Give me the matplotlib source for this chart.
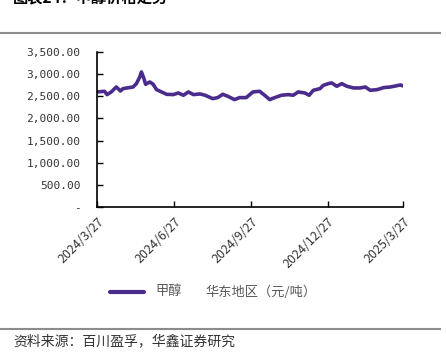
import matplotlib
matplotlib.use("Agg")
import matplotlib.pyplot as plt
from matplotlib.lines import Line2D
import pandas as pd

plt.rcParams['font.family'] = ['Noto Sans CJK SC', 'DejaVu Sans']

# methanol price, East China (yuan/ton)
dates = ['2024-03-27', '2024-04-05', '2024-04-08', '2024-04-13', '2024-04-19', '2024-04-24',
         '2024-04-27', '2024-05-09', '2024-05-13', '2024-05-17', '2024-05-19', '2024-05-22',
         '2024-05-24', '2024-05-29', '2024-06-02', '2024-06-06', '2024-06-12', '2024-06-18',
         '2024-06-26', '2024-07-02', '2024-07-08', '2024-07-14', '2024-07-20', '2024-07-28',
         '2024-08-03', '2024-08-12', '2024-08-18', '2024-08-24', '2024-08-30', '2024-09-07',
         '2024-09-13', '2024-09-21', '2024-09-29', '2024-10-07', '2024-10-13', '2024-10-19',
         '2024-10-25', '2024-11-02', '2024-11-10', '2024-11-16', '2024-11-22', '2024-11-30',
         '2024-12-05', '2024-12-10', '2024-12-18', '2024-12-22', '2024-12-28', '2025-01-01',
         '2025-01-07', '2025-01-13', '2025-01-19', '2025-01-27', '2025-02-04', '2025-02-10',
         '2025-02-16', '2025-02-24', '2025-03-04', '2025-03-12', '2025-03-18', '2025-03-24',
         '2025-03-27']
prices = [2598, 2613, 2538, 2598, 2710, 2620,
          2673, 2710, 2786, 2936, 3049, 2898,
          2771, 2823, 2771, 2650, 2598, 2545,
          2538, 2575, 2523, 2598, 2538, 2553,
          2523, 2447, 2470, 2545, 2500, 2425,
          2470, 2470, 2598, 2613, 2523, 2425,
          2470, 2523, 2538, 2523, 2598, 2575,
          2523, 2635, 2673, 2748, 2786, 2801,
          2726, 2786, 2726, 2688, 2688, 2710,
          2635, 2650, 2696, 2710, 2733, 2756,
          2733]
tick_dates = ['2024-03-27', '2024-06-27', '2024-09-27', '2024-12-27', '2025-03-27']
tick_labels = ['2024/3/27', '2024/6/27', '2024/9/27', '2024/12/27', '2025/3/27']
yticks = [0, 500, 1000, 1500, 2000, 2500, 3000, 3500]

x = pd.to_datetime(dates)
purple = '#4b2c8c'

fig = plt.figure(figsize=(4.46, 3.57), dpi=100)
ax = fig.add_axes([97 / 446, 1 - 207 / 357, 306 / 446, 155 / 357])

ax.plot(x, prices, color=purple, lw=2.6, solid_capstyle='round')
ax.set_xlim(pd.Timestamp(tick_dates[0]), pd.Timestamp(tick_dates[-1]))
ax.set_ylim(0, 3500)

ax.set_yticks(yticks)
ax.set_yticklabels(['-' if v == 0 else '{:,.2f}'.format(v) for v in yticks],
                   fontsize=8, color='#333333', family='DejaVu Sans Mono')
ax.set_xticks(pd.to_datetime(tick_dates))
ax.set_xticklabels(tick_labels, rotation=45, ha='right', rotation_mode='anchor',
                   fontsize=9, color='#333333')
ax.tick_params(axis='both', direction='in', length=4, width=1, color='black', pad=6)
ax.tick_params(axis='y', pad=12)
for s in ['top', 'right']:
    ax.spines[s].set_visible(False)
for s in ['left', 'bottom']:
    ax.spines[s].set_linewidth(1.2)

# legend
fig.add_artist(Line2D([110 / 446, 144 / 446], [1 - 292 / 357] * 2, color=purple, lw=3,
                      solid_capstyle='round'))
fig.text(155 / 446, 1 - 292 / 357, '甲醇', fontsize=9.5, color='#595959', va='center')
fig.text(205 / 446, 1 - 292 / 357, '华东地区（元/吨）', fontsize=9.5, color='#595959', va='center')

# header / footer
fig.text(13 / 446, 1 + 3 / 357, '图表24：甲醇价格走势', fontsize=11, fontweight='bold',
         color='black', va='center')
fig.add_artist(Line2D([0, 440 / 446], [1 - 33 / 357] * 2, color='#8c8c8c', lw=1.5))
fig.add_artist(Line2D([0, 440 / 446], [1 - 329 / 357] * 2, color='#8c8c8c', lw=1.5))
fig.text(13 / 446, 1 - 341 / 357, '资料来源：百川盈孚，华鑫证券研究', fontsize=10,
         color='#333333', va='center')

fig.savefig('out.png', dpi=100)
